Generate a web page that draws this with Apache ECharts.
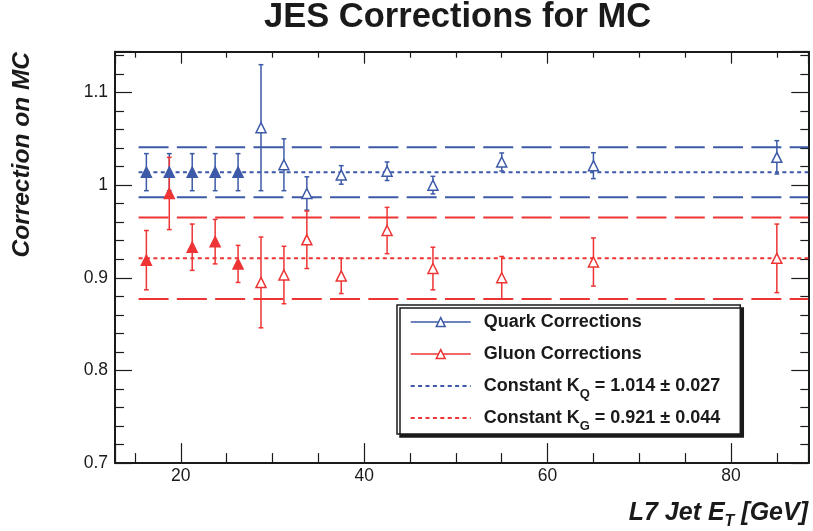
<!DOCTYPE html>
<html>
<head>
<meta charset="utf-8">
<title>JES Corrections for MC</title>
<script src="https://cdn.jsdelivr.net/npm/echarts@6/dist/echarts.min.js"></script>
<style>
html, body { margin: 0; padding: 0; background: #fff; }
#chart { width: 813px; height: 531px; }
</style>
</head>
<body>
<div id="chart"></div>
<script>
// jet E_T bin centres (GeV)
var etBins = [16.25, 18.75, 21.25, 23.75, 26.25, 28.75, 31.25, 33.75, 37.5, 42.5, 47.5, 55, 65, 85];
// quark / gluon corrections with their errors
var quarkCorr = [1.014, 1.014, 1.014, 1.014, 1.014, 1.062, 1.022, 0.991, 1.011, 1.015, 1.000, 1.025, 1.021, 1.030];
var quarkErr = [0.020, 0.020, 0.020, 0.020, 0.020, 0.068, 0.028, 0.018, 0.010, 0.010, 0.0095, 0.0097, 0.014, 0.018];
var gluonCorr = [0.919, 0.991, 0.933, 0.939, 0.915, 0.895, 0.903, 0.941, 0.902, 0.951, 0.910, 0.900, 0.917, 0.921];
var gluonErr = [0.032, 0.039, 0.025, 0.024, 0.020, 0.049, 0.031, 0.031, 0.019, 0.025, 0.023, 0.023, 0.026, 0.037];
var filledBins = 5; // first bins drawn with full markers
// constant fits [value, error]
var kQ = [1.014, 0.027];
var kG = [0.921, 0.044];
var fitRange = [15.4, 88.43];
var xRange = [12.83, 88.43];
var yRange = [0.7, 1.144];

var BLUE = '#3d5aa8';
var RED = '#ee3434';
var INK = '#1a1a1a';
var FONT = '"Liberation Sans", Arial, sans-serif';

function errorData(vals, errs) {
    return etBins.map(function (x, i) {
        return [x, vals[i] - errs[i], vals[i] + errs[i]];
    });
}

function pointData(vals, color) {
    return etBins.map(function (x, i) {
        var d = {value: [x, vals[i]]};
        if (i < filledBins) {
            d.itemStyle = {color: color};
        }
        return d;
    });
}

function hLine(y) {
    return [[fitRange[0], y], [fitRange[1], y]];
}

function renderErrorBar(params, api) {
    var x = api.value(0);
    var lo = api.coord([x, api.value(1)]);
    var hi = api.coord([x, api.value(2)]);
    var cap = 2.4;
    var style = {stroke: api.visual('color'), lineWidth: 1.5};
    return {
        type: 'group',
        children: [
            {type: 'line', shape: {x1: lo[0], y1: lo[1], x2: hi[0], y2: hi[1]}, style: style},
            {type: 'line', shape: {x1: lo[0] - cap, y1: lo[1], x2: lo[0] + cap, y2: lo[1]}, style: style},
            {type: 'line', shape: {x1: hi[0] - cap, y1: hi[1], x2: hi[0] + cap, y2: hi[1]}, style: style}
        ]
    };
}

function errorSeries(vals, errs, color) {
    return {
        type: 'custom',
        renderItem: renderErrorBar,
        data: errorData(vals, errs),
        encode: {x: 0, y: [1, 2]},
        itemStyle: {color: color},
        z: 3,
        silent: true
    };
}

function markerSeries(name, vals, color) {
    return {
        name: name,
        type: 'line',
        data: pointData(vals, color),
        symbol: 'triangle',
        symbolSize: 10,
        itemStyle: {color: '#fff', borderColor: color, borderWidth: 1.5},
        lineStyle: {opacity: 0},
        z: 5,
        silent: true
    };
}

function constSeries(name, y, color, dash) {
    return {
        name: name,
        type: 'line',
        data: hLine(y),
        symbol: 'none',
        lineStyle: {color: color, width: 2, type: dash},
        itemStyle: {color: color},
        z: 2,
        silent: true
    };
}

var legendText = {
    'Quark Corrections': '{a|Quark Corrections}',
    'Gluon Corrections': '{a|Gluon Corrections}',
    'Constant K_Q': '{a|Constant K}{sub|Q}{t| = ' + kQ[0].toFixed(3) + ' \u00b1 ' + kQ[1].toFixed(3) + '}',
    'Constant K_G': '{a|Constant K}{sub|G}{t| = ' + kG[0].toFixed(3) + ' \u00b1 ' + kG[1].toFixed(3) + '}'
};

function xAxisDef(pos, major, minor, labels) {
    return {
        type: 'value', position: pos, min: xRange[0], max: xRange[1], splitNumber: 4,
        axisLine: {show: true, onZero: false, lineStyle: {color: INK, width: 2}},
        axisTick: {show: true, inside: true, length: major, lineStyle: {color: INK, width: 1.2}},
        minorTick: {show: true, splitNumber: 4, length: minor, lineStyle: {color: INK, width: 1.2}},
        axisLabel: {show: labels, margin: 4, fontSize: 17.5, fontFamily: FONT, color: INK,
            showMinLabel: false, showMaxLabel: false},
        splitLine: {show: false}
    };
}

function yAxisDef(pos, major, minor, labels) {
    return {
        type: 'value', position: pos, min: yRange[0], max: yRange[1], splitNumber: 5,
        axisLine: {show: true, onZero: false, lineStyle: {color: INK, width: 2}},
        axisTick: {show: true, inside: true, length: major, lineStyle: {color: INK, width: 1.2}},
        minorTick: {show: true, splitNumber: 5, length: minor, lineStyle: {color: INK, width: 1.2}},
        axisLabel: {show: labels, margin: 7, fontSize: 17.5, fontFamily: FONT, color: INK,
            showMinLabel: true, showMaxLabel: false, padding: [4, 0, 0, 0]},
        splitLine: {show: false}
    };
}

var chart = echarts.init(document.getElementById('chart'), null, {renderer: 'canvas'});

chart.setOption({
    animation: false,
    backgroundColor: '#fff',
    title: {
        text: 'JES Corrections for MC',
        left: 264,
        top: 0,
        padding: 0,
        textStyle: {fontSize: 34.5, fontWeight: 'bold', fontFamily: FONT, color: INK}
    },
    grid: {left: 115, right: 4.7, top: 51.7, bottom: 67.9, containLabel: false, outerBoundsMode: 'none'},
    xAxis: [xAxisDef('bottom', 20, 10, true), xAxisDef('top', 12, 6, false)],
    yAxis: [yAxisDef('left', 17, 9, true), yAxisDef('right', 17, 8, false)],
    legend: {
        orient: 'vertical',
        left: 397,
        top: 305,
        padding: [1, 20, 0, 12.7],
        itemGap: 0,
        itemWidth: 60,
        itemHeight: 11,
        selectedMode: false,
        backgroundColor: '#fff',
        borderColor: INK,
        borderWidth: 1.5,
        shadowColor: INK,
        shadowBlur: 0,
        shadowOffsetX: 3,
        shadowOffsetY: 3,
        formatter: function (name) { return legendText[name]; },
        textStyle: {
            color: INK,
            fontFamily: FONT,
            rich: {
                a: {fontSize: 18, fontWeight: 'bold', fontFamily: FONT, lineHeight: 30,
                    verticalAlign: 'middle', padding: [7, 0, 7, 8], backgroundColor: 'rgba(255,255,255,0)'},
                t: {fontSize: 18, fontWeight: 'bold', fontFamily: FONT, lineHeight: 30, verticalAlign: 'middle'},
                sub: {fontSize: 13, fontWeight: 'bold', fontFamily: FONT, lineHeight: 30, verticalAlign: 'bottom'}
            }
        },
        data: [
            {name: 'Quark Corrections', lineStyle: {opacity: 1, color: BLUE, width: 1.5, type: 'solid'},
                itemStyle: {color: '#fff', borderColor: BLUE, borderWidth: 1.5}},
            {name: 'Gluon Corrections', lineStyle: {opacity: 1, color: RED, width: 1.5, type: 'solid'},
                itemStyle: {color: '#fff', borderColor: RED, borderWidth: 1.5}},
            {name: 'Constant K_Q', itemStyle: {opacity: 0}},
            {name: 'Constant K_G', itemStyle: {opacity: 0}}
        ]
    },
    graphic: [
        {
            type: 'text', x: 22, y: 52, rotation: Math.PI / 2,
            style: {text: 'Correction on MC', font: 'italic bold 24.5px ' + FONT, fill: INK,
                align: 'right', verticalAlign: 'middle'}
        },
        {
            type: 'text', x: 808, y: 513,
            style: {
                text: '{m|L7 Jet E}{sub|T}{m| [GeV]}', fill: INK, align: 'right', verticalAlign: 'middle',
                rich: {
                    m: {font: 'italic bold 25px ' + FONT, lineHeight: 34, verticalAlign: 'middle'},
                    sub: {font: 'italic bold 16px ' + FONT, lineHeight: 34, verticalAlign: 'bottom'}
                }
            }
        }
    ],
    series: [
        constSeries('', kQ[0] + kQ[1], BLUE, [30, 8.3]),
        constSeries('', kQ[0] - kQ[1], BLUE, [30, 8.3]),
        constSeries('', kG[0] + kG[1], RED, [30, 8.3]),
        constSeries('', kG[0] - kG[1], RED, [30, 8.3]),
        constSeries('Constant K_Q', kQ[0], BLUE, [4, 3.4]),
        constSeries('Constant K_G', kG[0], RED, [4, 3.4]),
        errorSeries(quarkCorr, quarkErr, BLUE),
        errorSeries(gluonCorr, gluonErr, RED),
        markerSeries('Quark Corrections', quarkCorr, BLUE),
        markerSeries('Gluon Corrections', gluonCorr, RED)
    ]
});
</script>
</body>
</html>
